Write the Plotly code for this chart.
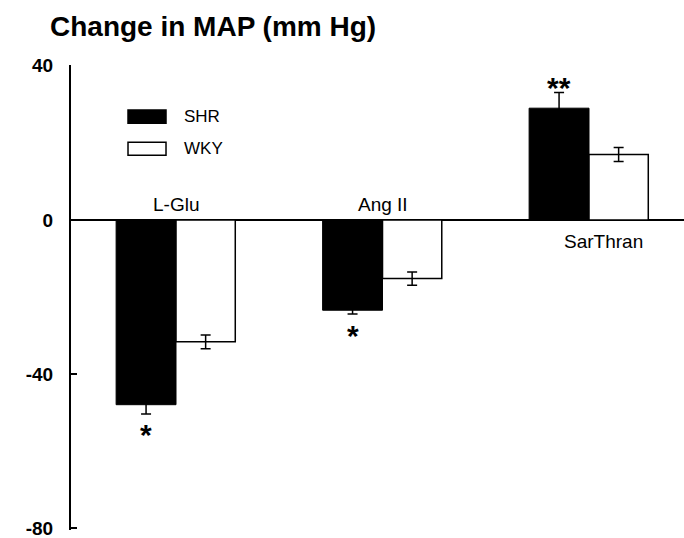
import plotly.graph_objects as go

categories = ["L-Glu", "Ang II", "SarThran"]
shr_values = [-47.9, -23.4, 29.0]
shr_errors = [2.4, 1.0, 4.1]
wky_values = [-31.6, -15.2, 17.0]
wky_errors = [1.8, 1.7, 1.8]
significance = ["*", "*", "**"]
y_ticks = [-80, -40, 0, 40]

pos = list(range(len(categories)))
BW = 0.29
FONT = "Liberation Sans, Arial, sans-serif"

fig = go.Figure()
fig.add_trace(go.Bar(
    x=pos, y=shr_values, name="SHR", width=BW, offset=-BW,
    marker=dict(color="black", line=dict(color="black", width=1)),
    error_y=dict(type="data", array=shr_errors, visible=True,
                 color="black", thickness=1.5, width=5),
))
fig.add_trace(go.Bar(
    x=pos, y=wky_values, name="WKY", width=BW - 0.003, offset=0,
    marker=dict(color="white", line=dict(color="black", width=1.5)),
    error_y=dict(type="data", array=wky_errors, visible=True,
                 color="black", thickness=1.5, width=5),
))

annotations = []
# category labels
for i, c in enumerate(categories):
    above = shr_values[i] < 0
    annotations.append(dict(
        x=pos[i], y=0, xref="x", yref="y", text=c, showarrow=False,
        xshift=0 if above else 14, yshift=16 if above else -21,
        yanchor="middle", font=dict(family=FONT, size=19, color="black")))
# significance marks
for i, s in enumerate(significance):
    v = shr_values[i]
    e = shr_errors[i]
    tip = v - e if v < 0 else v + e
    annotations.append(dict(
        x=pos[i] - BW / 2, y=tip, xref="x", yref="y", text="<b>" + s + "</b>",
        showarrow=False, yanchor="middle",
        yshift=-21 if v < 0 else 5,
        font=dict(family=FONT, size=30, color="black")))

# legend (custom swatches)
legend_items = [("SHR", "black", 0.875, 0.903), ("WKY", "white", 0.806, 0.834)]
shapes = []
for name, col, y0, y1 in legend_items:
    shapes.append(dict(type="rect", xref="paper", yref="paper",
                       x0=0.093, x1=0.155, y0=y0, y1=y1,
                       fillcolor=col, line=dict(color="black", width=1.5)))
    annotations.append(dict(x=0.181, y=(y0 + y1) / 2, xref="paper", yref="paper",
                            text=name, showarrow=False, xanchor="left",
                            yanchor="middle",
                            font=dict(family=FONT, size=17, color="black")))

fig.update_layout(
    width=684, height=538,
    margin=dict(l=71, r=0, t=65, b=8, autoexpand=False),
    paper_bgcolor="white", plot_bgcolor="white",
    barmode="overlay", showlegend=False,
    title=dict(text="<b>Change in MAP (mm Hg)</b>", x=50 / 684, xanchor="left",
               y=1 - 26 / 538, yanchor="middle", automargin=False,
               font=dict(family=FONT, size=28, color="black")),
    xaxis=dict(range=[-0.5085, 2.46], showticklabels=False, showgrid=False,
               zeroline=False, showline=False, ticks="", automargin=False),
    yaxis=dict(range=[-80.4, 40.2], tickvals=y_ticks,
               ticktext=[str(t) for t in y_ticks], automargin=False,
               ticklabeloverflow="allow",
               showgrid=False, showline=True, linecolor="black", linewidth=2,
               ticks="inside", ticklen=6, tickwidth=2, tickcolor="black",
               ticklabelstandoff=12,
               zeroline=True, zerolinecolor="black", zerolinewidth=1.5,
               tickfont=dict(family=FONT, size=19, color="black", weight="bold")),
    annotations=annotations, shapes=shapes,
)
fig.update_layout(title_xref="container")

fig.write_html(
    "out.html",
    config={"displayModeBar": False},
    post_script="document.body.style.margin='0';document.body.style.padding='0';",
)
